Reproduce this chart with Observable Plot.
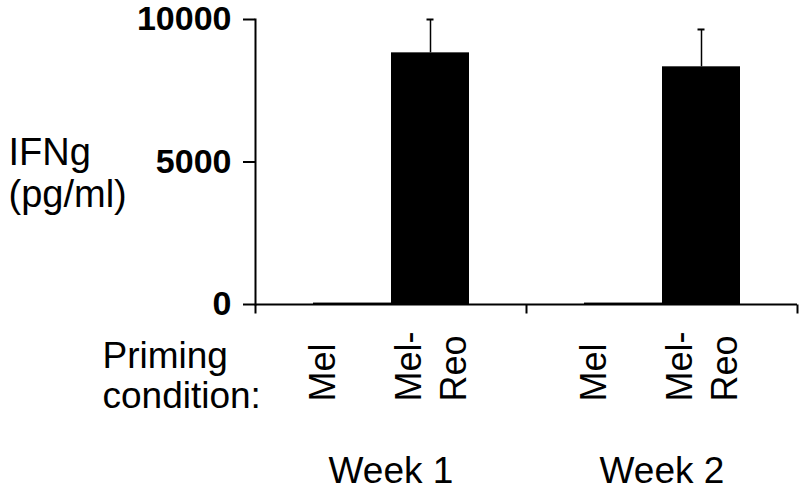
<!DOCTYPE html>
<html>
<head>
<meta charset="utf-8">
<script src="https://cdn.jsdelivr.net/npm/d3@7"></script>
<script src="https://cdn.jsdelivr.net/npm/@observablehq/plot@0.6"></script>
<style>
  html, body { margin: 0; padding: 0; background: white; }
  #chart { width: 800px; height: 492px; }
</style>
</head>
<body>
<div id="chart"></div>
<script>
const weeks = ["Week 1", "Week 2"];
const conditions = ["Mel", "Mel-Reo"];
const conditionLabels = ["Mel", "Mel-\nReo"];
const week1Values = [50, 8830];
const week2Values = [50, 8340];
const week1Errors = [0, 1170];
const week2Errors = [0, 1310];
const yTicks = [0, 5000, 10000];
const yLabel = "IFNg\n(pg/ml)";
const xLabel = "Priming\ncondition:";

const values = [week1Values, week2Values];
const errors = [week1Errors, week2Errors];
const rows = weeks.flatMap((w, i) => conditions.map((c, j) => ({
  week: w, condition: c, label: conditionLabels[j], value: values[i][j], error: errors[i][j]
})));
const errRows = rows.filter(d => d.error > 0);

const downTick = { draw(ctx) { ctx.moveTo(0, 0); ctx.lineTo(0, 9); } };
const font = "'Liberation Sans', Arial, sans-serif";

const chart = Plot.plot({
  width: 800,
  height: 492,
  marginLeft: 255,
  marginRight: 3,
  marginTop: 19,
  marginBottom: 188,
  style: { fontFamily: font, color: "black", background: "white", overflow: "visible" },
  fx: { domain: weeks, padding: 0, axis: null, label: null },
  x: { domain: conditions, paddingInner: 0, paddingOuter: 0.726, axis: null, label: null },
  y: { domain: [0, 10000], axis: null, label: null },
  marks: [
    Plot.barY(rows, { fx: "week", x: "condition", y: "value", fill: "black" }),
    Plot.ruleX(errRows, { fx: "week", x: "condition", y1: "value", y2: d => d.value + d.error, stroke: "black", strokeWidth: 1.5 }),
    Plot.tickY(errRows, { fx: "week", x: "condition", y: d => d.value + d.error, stroke: "black", strokeWidth: 2, inset: 35.5 }),
    Plot.ruleY([0], { stroke: "black", strokeWidth: 2 }),
    Plot.frame({ anchor: "left", facetAnchor: "left", stroke: "black", strokeWidth: 2 }),
    Plot.axisY({ ticks: yTicks, tickFormat: d3.format("d"), tickSize: 12, tickPadding: 12, fontSize: 34, fontWeight: "bold", strokeWidth: 2, label: null }),
    Plot.dot([0], { frameAnchor: "bottom-left", symbol: downTick, stroke: "black", strokeWidth: 2, r: 5 }),
    Plot.dot([0], { frameAnchor: "bottom-right", facetAnchor: "right", symbol: downTick, stroke: "black", strokeWidth: 2, r: 5 }),
    Plot.text(rows.filter(d => d.condition === "Mel"), { fx: "week", x: "condition", text: "label", frameAnchor: "bottom", rotate: -90, textAnchor: "start", dy: 97, dx: -18, fontSize: 36, lineHeight: 1.25 }),
    Plot.text(rows.filter(d => d.condition !== "Mel"), { fx: "week", x: "condition", text: "label", frameAnchor: "bottom", rotate: -90, textAnchor: "start", dy: 97, dx: 35, fontSize: 36, lineHeight: 1.25 }),
    Plot.text(weeks, { fx: d => d, text: d => d, frameAnchor: "bottom", dy: 178, fontSize: 37 }),
    Plot.text([yLabel], { text: d => d, frameAnchor: "left", facetAnchor: "left", textAnchor: "start", dx: -247, dy: 11, fontSize: 38, lineHeight: 1.1 }),
    Plot.text([xLabel], { text: d => d, frameAnchor: "bottom-left", facetAnchor: "left", textAnchor: "start", dx: -153, dy: 103, fontSize: 37, lineHeight: 1.08 })
  ]
});
document.getElementById("chart").appendChild(chart);
</script>
</body>
</html>
